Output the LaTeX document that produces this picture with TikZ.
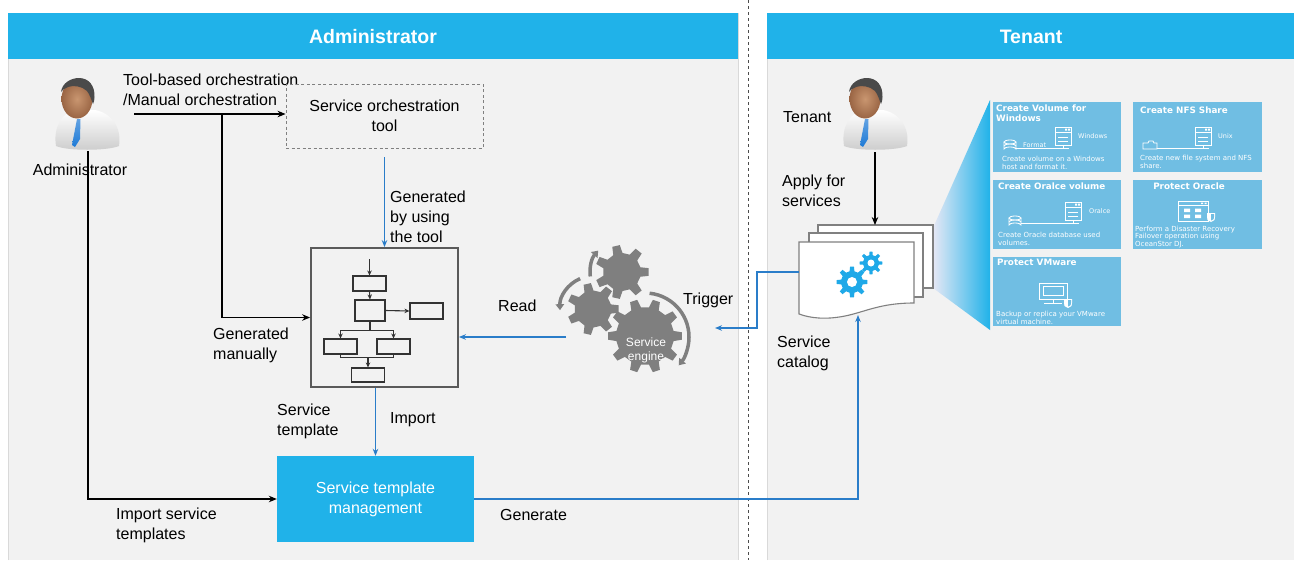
\documentclass[tikz,border=0pt]{standalone}
\usepackage{fontspec}
\setmainfont{Liberation Sans}
\newfontfamily\cardfont{DejaVu Sans}
\usetikzlibrary{arrows.meta,calc}

\definecolor{hdrblue}{HTML}{20B2E9}
\definecolor{panelbg}{HTML}{F2F2F2}
\definecolor{panelline}{HTML}{D9D9D9}
\definecolor{linkblue}{HTML}{2A7DC9}
\definecolor{cardblue}{HTML}{70BEE3}
\definecolor{geargray}{HTML}{7F7F7F}
\definecolor{boxgray}{HTML}{5A5A5A}
\definecolor{tieblue}{HTML}{1E7AD6}
\definecolor{skinlt}{HTML}{C99670}
\definecolor{skindk}{HTML}{9A6544}
\definecolor{hairgray}{HTML}{4A4A4A}
\definecolor{wedgelt}{HTML}{E6E8F5}
\definecolor{cogblue}{HTML}{1FA9E8}

% gear: centre x, centre y, teeth, inner radius, outer radius, fill
\newcommand\drawgear[6]{%
  \pgfmathsetmacro\gearstep{360/#3}%
  \begin{scope}[shift={(#1,#2)}]
    \fill[#6] ({-0.28*\gearstep}:#4) \foreach \gi in {1,...,#3}{
      -- ({(\gi-1)*\gearstep-0.28*\gearstep}:#4)
      -- ({(\gi-1)*\gearstep-0.16*\gearstep}:#5)
      -- ({(\gi-1)*\gearstep+0.16*\gearstep}:#5)
      -- ({(\gi-1)*\gearstep+0.28*\gearstep}:#4)
      -- ({\gi*\gearstep-0.28*\gearstep}:#4)
    } -- cycle;
  \end{scope}}

\tikzset{
  lbl/.style={font=\fontsize{16}{20}\selectfont, align=left, inner sep=0pt, anchor=west},
  hdr/.style={font=\fontsize{19.5}{22}\selectfont\bfseries, text=white, inner sep=0pt},
  dashbox/.style={draw=gray, dashed, dash pattern=on 3pt off 2.5pt, line width=0.9pt,
    minimum width=197pt, minimum height=64pt, align=center, inner sep=0pt,
    font=\fontsize{16}{20}\selectfont},
  flowbox/.style={draw=boxgray, line width=1.8pt, minimum width=147pt, minimum height=139pt, inner sep=0pt},
  fbox/.style={draw=black!80, line width=1.1pt, inner sep=0pt},
  fline/.style={draw=black!80, line width=1.1pt},
  farr/.style={fline, -{Stealth[length=5pt,width=4.5pt]}},
  stmbox/.style={fill=hdrblue, minimum width=197pt, minimum height=86pt, inner sep=0pt,
    align=center, text=white, font=\fontsize{16}{20}\selectfont},
  blk/.style={draw=black, line width=1.2pt, -{Stealth[length=8pt,width=6.5pt]}},
  bl/.style={draw=linkblue, line width=1.2pt, -{Stealth[length=7pt,width=5.5pt]}},
  gearflow/.style={draw=geargray, line width=3.5pt, -{Triangle[length=6pt,width=8.5pt]}},
  sheet/.style={draw=gray, fill=white, line width=1.1pt},
  card/.style={fill=cardblue, inner sep=0pt, anchor=north west},
  ctitle/.style={font=\cardfont\bfseries\fontsize{8.8}{10}\selectfont, text=white, inner sep=0pt, anchor=west, align=left},
  cdesc/.style={font=\cardfont\fontsize{7}{7.8}\selectfont, text=white, inner sep=0pt, anchor=west, align=left},
  csmall/.style={font=\cardfont\fontsize{6.5}{7.5}\selectfont, text=white, inner sep=0pt, anchor=west},
  icon/.style={draw=white, line width=0.8pt},
  server/.pic={
    \draw[icon] (-8,-16) rectangle (8,2);
    \draw[icon] (-8,-11) -- (8,-11) (-5,-6) -- (5,-6) (-5,-2) -- (5,-2);
    \fill[white] (2,-14.5) rectangle (4,-12.5) (5,-14.5) rectangle (7,-12.5);
    \draw[icon] (0,2) -- (0,5) (-6,5) -- (6,5);
  },
  disk/.pic={
    \draw[icon] (-6,-3) -- (-6,4) arc[start angle=180,end angle=0,x radius=6,y radius=-2] -- (6,-3);
    \draw[icon] (0,-3) ellipse [x radius=6, y radius=2];
    \draw[icon] (-6,1) arc[start angle=180,end angle=0,x radius=6,y radius=-2];
  },
  shield/.pic={
    \fill[white] (-4,-4) -- (4,-4) -- (4,0) .. controls (4,3) .. (0,5) .. controls (-4,3) .. (-4,0) -- cycle;
    \fill[cardblue] (0,-3) -- (3,-3) -- (3,0) .. controls (3,2) .. (0,3.6) -- cycle;
  },
  person/.pic={
    % shirt
    \shade[top color=white, bottom color=gray!40]
      (-21,47) .. controls (-24,28) and (-15,14) .. (-2,11) -- (18,11)
      .. controls (34,14) and (45,28) .. (42,47) .. controls (30,52) and (-10,52) .. (-21,47) -- cycle;
    % tie
    \shade[top color=tieblue!70, bottom color=tieblue] (0,20) -- (3.5,20) -- (3,40) -- (-2,48) -- (-5,46) -- cycle;
    % face
    \shade[inner color=skinlt, outer color=skindk] (0,0) ellipse [x radius=15.5, y radius=19.5];
    % hair
    \fill[hairgray] (-16,-7) .. controls (-15,-16) and (-6,-21) .. (2,-21)
      .. controls (12,-21) and (18,-13) .. (17.5,-2) .. controls (17.5,1) and (17,3) .. (16,5)
      .. controls (14,0) and (13,-4) .. (10,-8) .. controls (5,-13) and (-4,-14) .. (-9,-12)
      .. controls (-12,-11) and (-15,-9) .. (-16,-7) -- cycle;
  }
}

\begin{document}
\begin{tikzpicture}[x=1pt,y=-1pt]
\useasboundingbox (0,0) rectangle (1294,560);
\fill[white] (0,0) rectangle (1294,560);

% ---------- panels ----------
\fill[panelbg] (8,13) rectangle (738,560);
\draw[panelline] (8,560) -- (8,13) -- (738,13) -- (738,560);
\fill[hdrblue] (8,13) rectangle (738,59);
\node[hdr] (adminhdr) at (373,37) {Administrator};

\fill[panelbg] (767,13) rectangle (1294,560);
\draw[panelline] (767,560) -- (767,13) -- (1294,13);
\fill[hdrblue] (767,13) rectangle (1294,59);
\node[hdr] (tenanthdr) at (1031,37) {Tenant};

\draw[black!70, line width=1pt, dash pattern=on 3pt off 3pt] (748,0) -- (748,560);

% ---------- administrator side ----------
\pic at (77,99) {person};
\node[lbl, anchor=center] (adminlbl) at (80,170) {Administrator};
\coordinate (adminfoot) at (88,151);

\node[lbl] (toollbl) at (123,90) {Tool-based orchestration\\/Manual orchestration};
\node[dashbox] (orch) at (384.5,116) {Service orchestration\\tool};
\coordinate (orchsrc) at (134,114);
\coordinate (branch) at (222,114);
\draw[blk] (orchsrc) -- (orchsrc -| orch.west);

\node[flowbox] (tmpl) at (384.5,317.5) {};
\draw[blk] (branch) |- (tmpl.west);
\node[lbl] (manlbl) at (213,345) {Generated\\manually};

\draw[bl] ($(orch.south)+(0,9)$) -- (tmpl.north);
\node[lbl] (toolgen) at (390,217) {Generated\\by using\\the tool};

% flowchart inside the template
\node[fbox, minimum width=33pt, minimum height=15pt] (f1) at (369.5,283.5) {};
\node[fbox, minimum width=30pt, minimum height=21pt] (f2) at (370,310.5) {};
\node[fbox, minimum width=33pt, minimum height=16pt] (f3) at (426.5,311) {};
\node[fbox, minimum width=33pt, minimum height=15pt] (f4) at (340.5,346.5) {};
\node[fbox, minimum width=33pt, minimum height=15pt] (f5) at (393.5,346.5) {};
\node[fbox, minimum width=33pt, minimum height=14pt] (f6) at (368,375) {};
\coordinate (fstart) at (369.5,259);
\draw[farr] (fstart) -- (f1.north);
\draw[farr] (f1.south) -- (f2.north);
\draw[farr] (f2.east) -- (f3.west);
\draw[fline] (f2.south) -- ++(0,9) coordinate (fsplit);
\draw[farr] (fsplit) -| (f4.north);
\draw[farr] (fsplit) -| (f5.north);
\draw[fline] (f4.south) -- ++(0,3) coordinate (fjl) -| (f5.south);
\coordinate (fjoin) at ($(f4.south)!0.5!(f5.south)+(0,3)$);
\draw[farr] (f6.north |- fjoin) -- (f6.north);

\node[lbl] (tmpllbl) at (277,421) {Service\\template};
\node[lbl] (implbl) at (390,420) {Import};

\node[stmbox] (stm) at (375.5,499) {Service template\\management};
\draw[bl] (stm.north |- tmpl.south) -- (stm.north);
\draw[blk] (adminfoot) |- (stm.west);
\node[lbl] (implbl2) at (116,525) {Import service\\templates};
\node[lbl] (genlbl) at (500,515) {Generate};

% ---------- service engine ----------
\drawgear{622}{272}{7}{19}{27}{geargray}
\drawgear{593}{309}{7}{18.5}{26}{geargray}
\drawgear{645}{336}{10}{29}{37}{geargray}
\node[font=\fontsize{12}{14}\selectfont, text=white, align=center, inner sep=0pt] (engine) at (646,350) {Service\\engine};
\draw[gearflow] (645,337) ++(-84:44) arc[start angle=-84, end angle=40, radius=44];
\draw[gearflow] (593,309) ++(-113:33) arc[start angle=-113, end angle=-182, radius=33];
\draw[gearflow] (622,272) ++(172:32) arc[start angle=172, end angle=222, radius=32];

\coordinate (readsrc) at (566,337);
\draw[bl] (readsrc) -- (readsrc -| tmpl.east);
\node[lbl] (readlbl) at (498,306) {Read};
\node[lbl] (triglbl) at (683,300) {Trigger};

% ---------- tenant side ----------
\pic at (865,99) {person};
\node[lbl] (tenantlbl) at (783,117) {Tenant};
\coordinate (tenantfoot) at (875,152);
\node[lbl] (applylbl) at (782,191) {Apply for\\services};
\node[lbl] (catlbl) at (777,353) {Service\\catalog};

% zoom wedge towards the catalogue entries
\shade[left color=wedgelt, right color=hdrblue] (933,228) -- (990,100) -- (990,330) -- (933,288) -- cycle;

% service catalog: stacked sheets
\draw[sheet] (818,225) rectangle (933,288);
\draw[sheet] (809,233) rectangle (923,297);
\draw[sheet] (799,242) -- (914,242) -- (914,303)
  .. controls (880,303) and (865,312) .. (845,316)
  .. controls (825,320) and (810,318) .. (799,314) -- cycle;
\drawgear{852}{282}{8}{11}{15.5}{cogblue}
\fill[white] (852,282) circle (5);
\drawgear{871}{263}{8}{8}{11.5}{cogblue}
\fill[white] (871,263) circle (3.5);
\coordinate (catN) at (875,225);
\coordinate (catW) at (799,272);
\coordinate (catS) at (858,315);
\coordinate (trigend) at (715,328);

\draw[blk] (tenantfoot) -- (catN);
\draw[bl] (catW) -- ++(-42,0) |- (trigend);
\draw[bl] (stm.east) -| (catS);

% ---------- catalogue entries ----------
\node[card, minimum width=128pt, minimum height=70pt] (c1) at (993,102) {};
\node[card, minimum width=129pt, minimum height=70pt] (c2) at (1133,102) {};
\node[card, minimum width=128pt, minimum height=69pt] (c3) at (993,180) {};
\node[card, minimum width=129pt, minimum height=69pt] (c4) at (1133,180) {};
\node[card, minimum width=128pt, minimum height=69pt] (c5) at (993,257) {};

% Create Volume for Windows
\node[ctitle] (t1) at (996,113) {Create Volume for\\Windows};
\pic at (1063,143) {server};
\pic at (1010,145) {disk};
\draw[icon] (1016,148) -- (1063,148);
\node[csmall] (w1) at (1078,136) {Windows};
\node[csmall] (w2) at (1023,145) {Format};
\node[cdesc] (d1) at (1002,163) {Create volume on a Windows\\host and format it.};

% Create NFS Share
\node[ctitle] (t2) at (1140,110) {Create NFS Share};
\pic at (1203,143) {server};
\draw[icon] (1143,143) -- (1148,143) -- (1149,141) -- (1153,141) -- (1154,143) -- (1157,143) -- (1157,149) -- (1143,149) -- cycle;
\draw[icon] (1157,148) -- (1203,148);
\node[csmall] (u2) at (1218,136) {Unix};
\node[cdesc] (d2) at (1140,162) {Create new file system and NFS\\share.};

% Create Oralce volume
\node[ctitle] (t3) at (998,186) {Create Oralce volume};
\pic at (1073,218) {server};
\pic at (1015,221) {disk};
\draw[icon] (1021,223) -- (1073,223);
\node[csmall] (o3) at (1089,211) {Oralce};
\node[cdesc] (d3) at (998,239) {Create Oracle database used\\volumes.};

% Protect Oracle
\node[ctitle, anchor=center] (t4) at (1189,186) {Protect Oracle};
\draw[icon] (1178,201) rectangle (1208,221);
\draw[icon] (1178,205.5) -- (1208,205.5);
\fill[white] (1201,202.5) rectangle (1203,204) (1204.5,202.5) rectangle (1206.5,204);
\fill[white] (1184,208.5) rectangle (1190,212) (1195,208.5) rectangle (1201,212)
             (1184,214.5) rectangle (1190,218) (1195,214.5) rectangle (1201,218);
\pic at (1211,217) {shield};
\node[cdesc] (d4) at (1135,237) {Perform a Disaster Recovery\\Failover operation using\\OceanStor DJ.};

% Protect VMware
\node[ctitle] (t5) at (997,262) {Protect VMware};
\draw[icon] (1039,283) rectangle (1067,299);
\draw[icon] (1043,286.5) rectangle (1063,295.5);
\draw[icon] (1053,299) -- (1053,303) (1044,303) -- (1062,303);
\pic at (1068,303) {shield};
\node[cdesc] (d5) at (996,318) {Backup or replica your VMware\\virtual machine.};

\end{tikzpicture}
\end{document}
